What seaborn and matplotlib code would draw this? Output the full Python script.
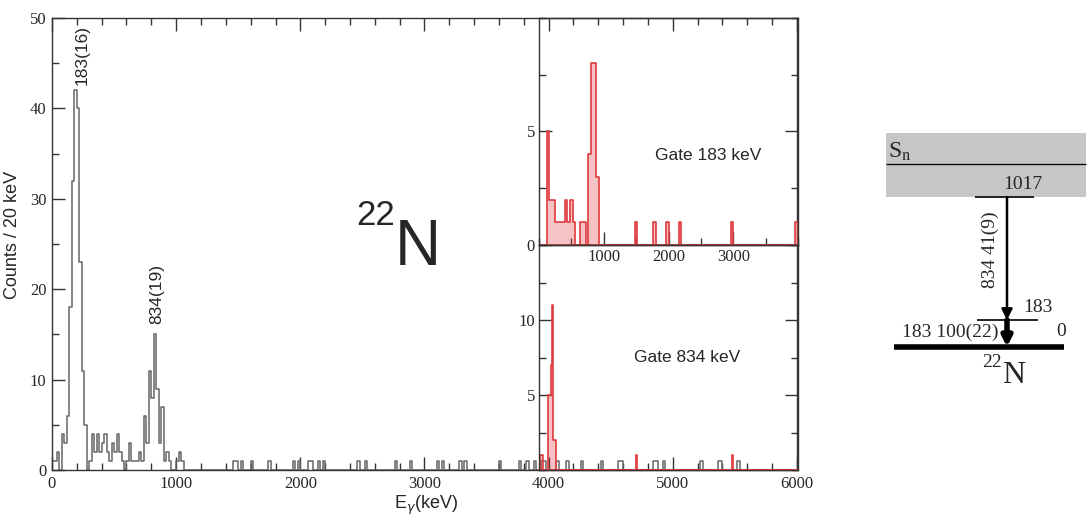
import numpy as np
import pandas as pd
import matplotlib
matplotlib.use('Agg')
import matplotlib.pyplot as plt
from matplotlib.ticker import MultipleLocator
import seaborn as sns

sns.set_theme(style='ticks')
plt.rcParams['font.family'] = ['Liberation Sans', 'DejaVu Sans']
serif = ['Liberation Serif', 'DejaVu Serif']

# singles spectrum, 20 keV bins, first 54 bins read one by one
low_counts = [1, 1, 2, 0, 4, 3, 6, 18, 32, 42, 40, 23, 11, 5, 0, 1, 4, 2, 4, 2,
              3, 4, 2, 1, 3, 2, 4, 2, 1, 0, 1, 3, 1, 1, 1, 2, 1, 6, 3, 11,
              8, 15, 9, 3, 7, 1, 2, 1, 0, 0, 1, 2, 1, 0]
low_kev = np.arange(len(low_counts)) * 20 + 10
# isolated single counts above ~1.1 MeV
sparse_kev = [1470, 1490, 1530, 1610, 1750, 1950, 1990, 2070, 2090, 2150, 2190,
              2470, 2530, 2770, 2890, 3110, 3150, 3290, 3330, 3610, 3770, 3830,
              3890, 3950, 3970, 4070, 4150, 4270, 4420, 4570, 4590, 4850, 4870,
              4930, 5230, 5370, 5390, 5520]
sparse_counts = [1] * len(sparse_kev)

# gate on 183 keV (40 keV bins)
gate183_kev = [140, 180, 220, 260, 300, 340, 380, 420, 460, 500, 540, 660, 700,
               780, 820, 860, 900, 1500, 1780, 1980, 2180, 2980, 3980]
gate183_counts = [5, 2, 2, 1, 1, 1, 1, 2, 1, 2, 1, 1, 1, 4, 8, 8, 3, 1, 1, 1, 1, 1, 1]

# gate on 834 keV (20 keV bins)
gate834_kev = [30, 50, 150, 170, 190, 210, 230, 250, 1510, 2990]
gate834_counts = [1, 1, 5, 5, 7, 11, 2, 2, 1, 1]

# level scheme of 22N
levels = [0, 183, 1017]
s_n = 1240

singles = pd.DataFrame({'E': np.concatenate([low_kev, sparse_kev]).astype(float),
                        'n': np.concatenate([low_counts, sparse_counts]).astype(float)})
g183 = pd.DataFrame({'E': np.array(gate183_kev, float), 'n': np.array(gate183_counts, float)})
g834 = pd.DataFrame({'E': np.array(gate834_kev, float), 'n': np.array(gate834_counts, float)})

fig = plt.figure(figsize=(10.89, 5.29), dpi=100, facecolor='white')

# main spectrum
ax = fig.add_axes([52/1089, 0.1115, 745/1089, 0.8544])
sns.histplot(data=singles, x='E', weights='n', binwidth=20, binrange=(0, 6000),
             element='step', fill=False, color='#666666', linewidth=1.1, ax=ax)
ax.set_xlim(0, 6000)
ax.set_ylim(0, 50)
ax.set_xticks(range(0, 6001, 1000), [str(v) for v in range(0, 6001, 1000)],
              fontfamily=serif, fontsize=12)
ax.set_yticks(range(0, 51, 10), [str(v) for v in range(0, 51, 10)],
              fontfamily=serif, fontsize=12)
ax.xaxis.set_minor_locator(MultipleLocator(200))
ax.yaxis.set_minor_locator(MultipleLocator(5))
ax.tick_params(which='both', direction='in', top=True, right=False, color='#333333')
ax.tick_params(which='major', length=9.5, width=1, pad=4)
ax.tick_params(which='minor', length=5, width=1)
ax.set_xlabel(r'E$_{\gamma}$(keV)', fontsize=13)
ax.set_ylabel('Counts / 20 keV', fontsize=13)
ax.xaxis.set_label_coords(0.502, -0.052)
ax.yaxis.set_label_coords(-0.042, 0.52)
for s in ax.spines.values():
    s.set_linewidth(1)
    s.set_color('#333333')
ax.text(240, 42.6, '183(16)', rotation=90, ha='center', va='bottom', fontsize=12.5)
ax.text(845, 16.1, '834(19)', rotation=90, ha='center', va='bottom', fontsize=12.5)
ax.text(0.408, 0.542, '22', transform=ax.transAxes, fontsize=25, ha='left', va='baseline')
ax.text(0.4604, 0.4535, 'N', transform=ax.transAxes, fontsize=46, ha='left', va='baseline')

red = '#e0393e'

# inset: gate 183 keV
ax_up = fig.add_axes([539/1089, 0.5369, 259/1089, 0.4291], facecolor='none')
sns.histplot(data=g183, x='E', weights='n', binwidth=40, binrange=(0, 4000),
             element='step', fill=True, color=red, alpha=0.3, linewidth=1.2, ax=ax_up)
ax_up.set_xlim(0, 4000)
ax_up.set_ylim(0, 10)
ax_up.set_xticks([1000, 2000, 3000], ['1000', '2000', '3000'], fontfamily=serif, fontsize=12)
ax_up.set_yticks([0, 5], ['0', '5'], fontfamily=serif, fontsize=12)
ax_up.xaxis.set_minor_locator(MultipleLocator(500))
ax_up.yaxis.set_minor_locator(MultipleLocator(2.5))
ax_up.tick_params(which='both', direction='in', top=False, right=True, color='#333333')
ax_up.tick_params(which='major', length=9.5, width=1, pad=3)
ax_up.tick_params(which='minor', length=5, width=1)
ax_up.set_xlabel('')
ax_up.set_ylabel('')
ax_up.text(0.6525, 0.396, 'Gate 183 keV', transform=ax_up.transAxes,
           ha='center', va='center', fontsize=12.5)

# inset: gate 834 keV
ax_lo = fig.add_axes([539/1089, 0.1115, 259/1089, 0.4253], facecolor='none')
sns.histplot(data=g834, x='E', weights='n', binwidth=20, binrange=(0, 4000),
             element='step', fill=True, color=red, alpha=0.3, linewidth=1.2, ax=ax_lo)
ax_lo.set_xlim(0, 4000)
ax_lo.set_ylim(0, 15)
ax_lo.set_xticks([])
ax_lo.set_yticks([5, 10], ['5', '10'], fontfamily=serif, fontsize=12)
ax_lo.yaxis.set_minor_locator(MultipleLocator(2.5))
ax_lo.tick_params(which='both', direction='in', right=True, color='#333333')
ax_lo.tick_params(which='major', length=9.5, width=1, pad=3)
ax_lo.tick_params(which='minor', length=5, width=1)
ax_lo.set_xlabel('')
ax_lo.set_ylabel('')
ax_lo.text(0.571, 0.498, 'Gate 834 keV', transform=ax_lo.transAxes,
           ha='center', va='center', fontsize=12.5)

for a in (ax_up, ax_lo):
    for s in a.spines.values():
        s.set_linewidth(1)
        s.set_color('#333333')

# level scheme
lv = fig.add_axes([880/1089, 0.2743, 209/1089, 0.4879])
lv.set_xlim(880, 1089)
lv.set_ylim(-250, 1500)
lv.axis('off')
lv.fill_between([886, 1086], levels[2], 1451, color='#c6c6c6', lw=0)
lv.hlines(s_n, 886, 1086, color='black', lw=0.9)
lv.text(888, s_n + 10, r'S$_{\rm n}$', math_fontfamily='stix', fontfamily=serif,
        fontsize=17, ha='left', va='bottom')
lv.hlines(levels[2], 975, 1034, color='black', lw=1.2)
lv.text(1023, levels[2] + 25, '1017', fontfamily=serif, fontsize=14, ha='center', va='bottom')
lv.hlines(levels[1], 977, 1038, color='black', lw=1.2)
lv.text(1038, levels[1] + 30, '183', fontfamily=serif, fontsize=14, ha='center', va='bottom')
lv.hlines(levels[0], 894, 1064, color='black', lw=4)
lv.text(1061, 102, '0', fontfamily=serif, fontsize=14, ha='center', va='center')
lv.annotate('', xy=(1007, levels[1]), xytext=(1007, levels[2]),
            arrowprops=dict(arrowstyle='-|>', lw=1.8, color='black',
                            mutation_scale=16, shrinkA=0, shrinkB=0))
lv.annotate('', xy=(1007, levels[0]), xytext=(1007, levels[1]),
            arrowprops=dict(arrowstyle='-|>', lw=4, color='black',
                            mutation_scale=14, shrinkA=0, shrinkB=0))
lv.text(990, 658, '834 41(9)', rotation=90, fontfamily=serif, fontsize=14,
        ha='center', va='center')
lv.text(998, 102, '183 100(22)', fontfamily=serif, fontsize=14, ha='right', va='center')
lv.text(1002, -136, '22', fontfamily=serif, fontsize=14, ha='right', va='baseline')
lv.text(1002, -244, 'N', fontfamily=serif, fontsize=23, ha='left', va='baseline')

fig.savefig('out.png', dpi=100, facecolor='white')
